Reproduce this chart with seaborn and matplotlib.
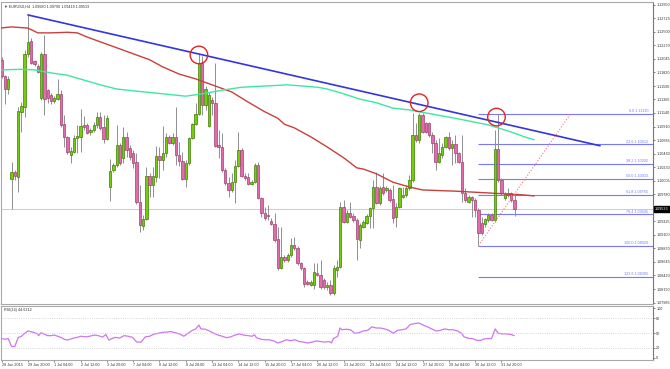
import numpy as np
import pandas as pd
import matplotlib
matplotlib.use("Agg")
import matplotlib.pyplot as plt
import matplotlib.transforms as mtransforms
import seaborn as sns

# ── Data (EURUSD H4) ─────────────────────────────────────────────────────────
opens = [
    1.1203, 1.1176, 1.1154, 1.1003, 1.1015, 1.1007, 1.1116, 1.1124, 1.1213, 1.1234,
    1.1201, 1.1193, 1.1139, 1.1213, 1.1152, 1.1144, 1.1134, 1.1137, 1.1146, 1.1095,
    1.1074, 1.1044, 1.1049, 1.1072, 1.1074, 1.1094, 1.1094, 1.1082, 1.1085, 1.1094,
    1.1107, 1.1090, 1.1070, 1.0990, 1.1018, 1.1027, 1.1060, 1.1039, 1.1074, 1.1055,
    1.1047, 1.1032, 1.0965, 1.0925, 1.0936, 1.1008, 1.0993, 1.1007, 1.1042, 1.1035,
    1.1047, 1.1074, 1.1064, 1.1074, 1.1044, 1.1034, 1.1003, 1.1030, 1.1072, 1.1095,
    1.1112, 1.1198, 1.1127, 1.1092, 1.1136, 1.1131, 1.1060, 1.1057, 1.1018, 1.0997,
    1.0985, 1.0998, 1.1025, 1.1052, 1.1008, 1.1007, 1.0995, 1.0998, 1.1027, 1.0971,
    1.0946, 1.0943, 1.0933, 1.0928, 1.0903, 1.0854, 1.0873, 1.0868, 1.0876, 1.0893,
    1.0888, 1.0863, 1.0854, 1.0831, 1.0826, 1.0826, 1.0846, 1.0843, 1.0834, 1.0823,
    1.0826, 1.0813, 1.0851, 1.0856, 1.0956, 1.0931, 1.0946, 1.0941, 1.0935, 1.0901,
    1.0923, 1.0930, 1.0941, 1.0955, 1.0990, 1.0963, 1.0990, 1.0985, 1.0985, 1.0970,
    1.0940, 1.0956, 1.0973, 1.0977, 1.0988, 1.1002, 1.1077, 1.1069, 1.1111, 1.1097,
    1.1097, 1.1077, 1.1064, 1.1032, 1.1044, 1.1057, 1.1074, 1.1055, 1.1062, 1.1047,
    1.1032, 1.0980, 1.0965, 1.0973, 1.0968, 1.0951, 1.0930, 1.0928, 1.0935, 1.0943,
    1.0935, 1.1054, 1.1002, 1.0972, 1.0980, 1.0980, 1.0968,
]
highs = [
    1.1208, 1.1177, 1.1176, 1.1032, 1.1018, 1.1124, 1.1132, 1.1219, 1.1278, 1.1239,
    1.1203, 1.1196, 1.1216, 1.1244, 1.1154, 1.1147, 1.1142, 1.1171, 1.1152, 1.1111,
    1.1075, 1.1057, 1.1077, 1.1094, 1.1120, 1.1109, 1.1097, 1.1089, 1.1099, 1.1116,
    1.1116, 1.1111, 1.1111, 1.1037, 1.1030, 1.1094, 1.1064, 1.1090, 1.1082, 1.1060,
    1.1052, 1.1047, 1.0993, 1.0943, 1.1023, 1.1013, 1.1023, 1.1059, 1.1057, 1.1092,
    1.1080, 1.1077, 1.1080, 1.1124, 1.1065, 1.1049, 1.1035, 1.1074, 1.1097, 1.1131,
    1.1214, 1.1209, 1.1159, 1.1149, 1.1141, 1.1198, 1.1085, 1.1080, 1.1022, 1.1007,
    1.1013, 1.1035, 1.1082, 1.1055, 1.1013, 1.1013, 1.1002, 1.1030, 1.1032, 1.0973,
    1.0956, 1.0960, 1.0938, 1.0946, 1.0923, 1.0923, 1.0876, 1.0879, 1.0905, 1.0906,
    1.0891, 1.0864, 1.0856, 1.0834, 1.0834, 1.0863, 1.0863, 1.0868, 1.0838, 1.0831,
    1.0834, 1.0859, 1.0868, 1.0965, 1.0968, 1.0951, 1.0965, 1.0946, 1.0938, 1.0930,
    1.0935, 1.0945, 1.0956, 1.1002, 1.1015, 1.0992, 1.1013, 1.0992, 1.0988, 1.0993,
    1.0963, 1.0990, 1.0990, 1.0993, 1.1010, 1.1114, 1.1097, 1.1114, 1.1114, 1.1099,
    1.1099, 1.1082, 1.1069, 1.1072, 1.1064, 1.1075, 1.1082, 1.1069, 1.1077, 1.1049,
    1.1077, 1.0988, 1.0977, 1.0975, 1.0972, 1.0955, 1.0940, 1.0938, 1.0946, 1.0946,
    1.1085, 1.1113, 1.1005, 1.0982, 1.0988, 1.0982, 1.0979,
]
lows = [
    1.1172, 1.1129, 1.1146, 1.0953, 1.1002, 1.0982, 1.1082, 1.1107, 1.1208, 1.1196,
    1.1193, 1.1181, 1.1136, 1.1111, 1.1131, 1.1129, 1.1131, 1.1136, 1.1090, 1.1057,
    1.1045, 1.1030, 1.1047, 1.1047, 1.1049, 1.1085, 1.1079, 1.1077, 1.1082, 1.1089,
    1.1085, 1.1064, 1.1069, 1.0967, 1.1015, 1.1023, 1.1027, 1.1030, 1.1040, 1.1035,
    1.1022, 1.0961, 1.0915, 1.0918, 1.0935, 1.0973, 1.0973, 1.0998, 1.1005, 1.1018,
    1.1040, 1.1062, 1.1060, 1.1027, 1.1025, 1.1002, 1.0990, 1.1027, 1.1070, 1.1094,
    1.1111, 1.1111, 1.1119, 1.1090, 1.1111, 1.1057, 1.1039, 1.1015, 1.0993, 1.0973,
    1.0982, 1.0963, 1.1023, 1.1007, 1.1002, 1.0993, 1.0993, 1.0997, 1.0970, 1.0940,
    1.0935, 1.0935, 1.0926, 1.0898, 1.0851, 1.0853, 1.0864, 1.0864, 1.0873, 1.0885,
    1.0859, 1.0851, 1.0823, 1.0826, 1.0824, 1.0819, 1.0841, 1.0819, 1.0819, 1.0818,
    1.0809, 1.0809, 1.0839, 1.0854, 1.0930, 1.0930, 1.0938, 1.0931, 1.0868, 1.0888,
    1.0921, 1.0928, 1.0921, 1.0921, 1.0961, 1.0960, 1.0977, 1.0982, 1.0965, 1.0930,
    1.0923, 1.0955, 1.0972, 1.0973, 1.0985, 1.0998, 1.1065, 1.1064, 1.1080, 1.1080,
    1.1074, 1.1047, 1.1018, 1.1030, 1.1039, 1.1055, 1.1052, 1.1027, 1.1030, 1.1030,
    1.0965, 1.0965, 1.0963, 1.0940, 1.0940, 1.0892, 1.0910, 1.0923, 1.0931, 1.0933,
    1.0931, 1.0998, 1.0977, 1.0968, 1.0973, 1.0965, 1.0942,
]
closes = [
    1.1176, 1.1154, 1.1171, 1.1015, 1.1008, 1.1117, 1.1126, 1.1213, 1.1233, 1.1198,
    1.1196, 1.1183, 1.1213, 1.1137, 1.1139, 1.1134, 1.1139, 1.1146, 1.1094, 1.1074,
    1.1049, 1.1050, 1.1072, 1.1075, 1.1092, 1.1090, 1.1080, 1.1085, 1.1094, 1.1107,
    1.1089, 1.1070, 1.1106, 1.1017, 1.1027, 1.1060, 1.1030, 1.1074, 1.1052, 1.1040,
    1.1030, 1.0965, 1.0926, 1.0936, 1.1008, 1.0993, 1.1008, 1.1042, 1.1035, 1.1047,
    1.1074, 1.1064, 1.1074, 1.1044, 1.1034, 1.1003, 1.1030, 1.1072, 1.1095, 1.1112,
    1.1198, 1.1127, 1.1154, 1.1144, 1.1131, 1.1059, 1.1057, 1.1018, 1.0997, 1.0985,
    1.0998, 1.1025, 1.1052, 1.1008, 1.1005, 1.0995, 1.0998, 1.1027, 1.0971, 1.0946,
    1.0938, 1.0941, 1.0928, 1.0901, 1.0854, 1.0873, 1.0868, 1.0876, 1.0893, 1.0888,
    1.0863, 1.0854, 1.0828, 1.0828, 1.0831, 1.0848, 1.0843, 1.0823, 1.0823, 1.0826,
    1.0813, 1.0854, 1.0856, 1.0956, 1.0931, 1.0946, 1.0940, 1.0935, 1.0903, 1.0926,
    1.0931, 1.0941, 1.0955, 1.0990, 1.0963, 1.0988, 1.0980, 1.0988, 1.0968, 1.0938,
    1.0956, 1.0988, 1.0977, 1.0988, 1.1002, 1.1077, 1.1069, 1.1111, 1.1082, 1.1082,
    1.1077, 1.1064, 1.1032, 1.1047, 1.1057, 1.1074, 1.1055, 1.1062, 1.1047, 1.1032,
    1.0980, 1.0968, 1.0973, 1.0968, 1.0951, 1.0913, 1.0913, 1.0936, 1.0943, 1.0935,
    1.1054, 1.1002, 1.0980, 1.0978, 1.0977, 1.0968, 1.0953,
]

# moving averages, sampled at bar positions
ma_red_x = [-0.5, 3, 8, 11, 15, 20, 23, 26, 30, 35, 40, 45, 49, 54, 59, 64, 70, 75, 80,
            84, 86, 89, 94, 99, 104, 108, 110, 114, 119, 124, 128, 138, 148, 158, 162]
ma_red = [1.1256, 1.1258, 1.1256, 1.1248, 1.1248, 1.1249, 1.1248, 1.1241, 1.1233, 1.1223,
          1.1213, 1.1203, 1.1191, 1.1179, 1.1171, 1.1161, 1.1149, 1.1132, 1.1116, 1.1105,
          1.1095, 1.1089, 1.1074, 1.1057, 1.1039, 1.1022, 1.1020, 1.1012, 1.0998, 1.0990,
          1.0985, 1.0983, 1.0980, 1.0977, 1.0975]
ma_green_x = [-0.5, 6, 10, 15, 20, 25, 30, 35, 40, 49, 56, 61, 67, 73, 80, 87, 96, 99,
              104, 109, 114, 119, 124, 131, 138, 148, 155, 159, 162]
ma_green = [1.1186, 1.1187, 1.1186, 1.1181, 1.1177, 1.1169, 1.1161, 1.1154, 1.1151, 1.1146,
            1.1142, 1.1146, 1.1152, 1.1157, 1.1159, 1.1161, 1.1157, 1.1154, 1.1146, 1.1137,
            1.1131, 1.1122, 1.1119, 1.1112, 1.1105, 1.1094, 1.1082, 1.1074, 1.1069]

trend_x = [8, 182]
trend_y = [1.1278, 1.1059]
proj_x = [145, 173]
proj_y = [1.0892, 1.1112]
circle_x = [60, 127, 150.5]
circle_y = [1.1211, 1.1131, 1.1107]

fib_ratios = ["0.0", "23.6", "38.2", "50.0", "61.8", "76.4", "100.0", "123.6"]
fib_prices = [1.11130, 1.10612, 1.10292, 1.10033, 1.09765, 1.09445, 1.08920, 1.08395]
fib_start = 145

price_ticks = [1.12950, 1.12725, 1.12500, 1.12270, 1.12045, 1.11820, 1.11590, 1.11365,
               1.11140, 1.10910, 1.10685, 1.10460, 1.10230, 1.10005, 1.09780, 1.09325,
               1.09100, 1.08870, 1.08645, 1.08420, 1.08190, 1.07965]
last_price = 1.09533

rsi_x = [0, 1, 2, 3, 4, 5, 6, 7, 8, 9, 10, 11, 11.2, 12, 13, 14, 15, 16, 18, 19, 20, 22,
         23, 24, 25.5, 26.8, 28.1, 29.4, 30.7, 31.7, 32.6, 33.5, 34.6, 35.9, 37.2, 38.5,
         39.8, 41.1, 42.4, 43.7, 45.0, 46.3, 47.6, 48.9, 50.2, 51.5, 52.8, 54.1, 55.4, 56.7,
         58.0, 59.0, 60.0, 60.6, 61.9, 63.2, 64.5, 65.8, 67.1, 68.4, 69.7, 71.0, 72.3, 73.6,
         74.9, 76.2, 76.9, 77.5, 78.8, 80.1, 81.4, 82.7, 84.0, 85.3, 86.6, 87.9, 89.2, 90.5,
         91.8, 93.1, 94.4, 95.7, 97.0, 98.3, 99.6, 100.3, 100.9, 102.2, 102.9, 103.5, 104.8,
         106.1, 107.4, 108.7, 110.0, 111.3, 112.6, 113.9, 115.2, 116.5, 117.8, 119.1, 120.4,
         121.7, 123.0, 124.3, 125.6, 126.9, 128.2, 129.5, 130.8, 132.1, 133.4, 134.7, 136.0,
         137.3, 138.6, 139.9, 140.6, 141.9, 143.2, 144.5, 145.8, 146.4, 147.7, 149.0, 150.1,
         151.0, 152.3, 153.6, 154.9, 155.9]
rsi_vals = [38.8, 37.6, 38.8, 23.0, 23.0, 40.6, 43.5, 49.4, 54.1, 52.4, 50.6, 48.2, 44.7,
            50.6, 47.6, 44.7, 44.7, 45.9, 41.2, 37.6, 35.9, 40.0, 41.2, 43.5, 42.4, 43.5,
            45.9, 44.7, 41.8, 47.1, 35.9, 38.8, 41.2, 40.0, 44.7, 43.5, 41.2, 31.8, 31.8,
            42.4, 43.5, 47.6, 49.4, 51.2, 51.8, 52.9, 50.6, 48.2, 43.5, 49.4, 55.3, 58.2,
            65.9, 58.2, 57.6, 54.1, 49.4, 45.9, 43.5, 40.6, 42.4, 45.9, 48.2, 45.9, 44.7,
            43.5, 46.5, 40.6, 37.6, 36.5, 36.5, 34.1, 30.0, 32.9, 36.5, 34.7, 36.5, 32.9,
            31.8, 30.0, 31.8, 34.1, 32.9, 31.8, 32.9, 30.0, 38.8, 43.5, 60.0, 56.5, 57.6,
            56.5, 49.4, 50.6, 54.1, 55.3, 62.3, 60.0, 60.0, 58.2, 55.3, 49.4, 55.3, 56.5,
            58.2, 67.1, 68.8, 70.0, 65.9, 62.3, 58.2, 54.1, 55.3, 58.2, 56.5, 56.5, 54.1,
            49.4, 42.4, 39.4, 38.8, 35.3, 35.3, 37.6, 38.8, 38.8, 58.2, 49.4, 48.2, 48.2,
            47.1, 44.7]
rsi_ticks = [0, 20, 50, 80, 100]
rsi_levels = [20, 50, 80]

date_labels = ["28 Jun 2015", "29 Jun 20:00", "1 Jul 04:00", "2 Jul 12:00", "3 Jul 20:00",
               "7 Jul 04:00", "8 Jul 12:00", "9 Jul 20:00", "13 Jul 04:00", "14 Jul 12:00",
               "15 Jul 20:00", "17 Jul 04:00", "20 Jul 12:00", "21 Jul 20:00", "23 Jul 04:00",
               "24 Jul 12:00", "27 Jul 20:00", "29 Jul 04:00", "30 Jul 12:00", "31 Jul 20:00"]
DATE_STEP = 8

# ── Style ────────────────────────────────────────────────────────────────────
BULL, BULL_EDGE = "#74cc10", "#3f7d00"
BEAR, BEAR_EDGE = "#e46aae", "#a0406e"
WICK = "#8f8f8f"
FIB = "#7878ff"
XMIN, XMAX = -0.2, 198.1
SMALL = 2.7

sns.set_theme(style="white")
plt.rcParams["font.family"] = ["Liberation Sans", "DejaVu Sans"]

fig = plt.figure(figsize=(6.70, 3.69), dpi=100)
ax = fig.add_axes([0.0015, 0.1762, 0.9731, 0.8184])
ax2 = fig.add_axes([0.0015, 0.0244, 0.9731, 0.1463])

# ── Candles ──────────────────────────────────────────────────────────────────
df = pd.DataFrame({"open": opens, "high": highs, "low": lows, "close": closes})
df["bar"] = np.arange(len(df))
up = df["close"] >= df["open"]
bottom = df[["open", "close"]].min(axis=1)
height = (df["close"] - df["open"]).abs().clip(lower=0.00006)

ax.vlines(df["bar"], df["low"], df["high"], color=WICK, lw=0.7, zorder=2)
ax.bar(df["bar"][up], height[up], bottom=bottom[up], width=0.72,
       color=BULL, edgecolor=BULL_EDGE, lw=0.5, zorder=3)
ax.bar(df["bar"][~up], height[~up], bottom=bottom[~up], width=0.72,
       color=BEAR, edgecolor=BEAR_EDGE, lw=0.5, zorder=3)

# ── Overlays ─────────────────────────────────────────────────────────────────
sns.lineplot(x=ma_red_x, y=ma_red, ax=ax, color="#c8403c", lw=1.0, estimator=None, zorder=4)
sns.lineplot(x=ma_green_x, y=ma_green, ax=ax, color="#3ee6a4", lw=1.0, estimator=None, zorder=4)
sns.lineplot(x=trend_x, y=trend_y, ax=ax, color="#3434e0", lw=1.2, estimator=None, zorder=5)
sns.lineplot(x=proj_x, y=proj_y, ax=ax, color="#ff7070", lw=0.8, linestyle=":",
             estimator=None, zorder=5)

ax.axhline(last_price, color="#c4c4c4", lw=0.6, zorder=1)
ax.hlines(fib_prices, fib_start, XMAX, color=FIB, lw=0.8, zorder=1)
trans = mtransforms.blended_transform_factory(ax.transAxes, ax.transData)
for r, p in zip(fib_ratios, fib_prices):
    ax.text(0.993, p + 0.00010, f"{r} {p:.5f}", transform=trans, ha="right", va="bottom",
            fontsize=SMALL, color=FIB)

ax.scatter(circle_x, circle_y, s=160, facecolors="none", edgecolors="#e52222", lw=1.0, zorder=6)

ax.text(0.004, 0.993, "\u25bc EURUSD,H4  1.09680 1.09790 1.09419 1.09533", transform=ax.transAxes,
        ha="left", va="top", fontsize=SMALL, color="#333333")
ax.text(1.003, last_price, "1.09533", transform=trans, ha="left", va="center", fontsize=SMALL,
        color="white", bbox=dict(boxstyle="square,pad=0.25", fc="black", ec="black"),
        clip_on=False, zorder=10)

ax.set_xlim(XMIN, XMAX)
ax.set_ylim(1.07941, 1.12997)
ax.yaxis.tick_right()
ax.set_yticks(price_ticks)
ax.set_yticklabels([f"{t:.5f}" for t in price_ticks])
ax.set_xticks([])
ax.tick_params(axis="y", labelsize=SMALL, length=1.5, width=0.5, pad=0.8,
               colors="#555555", labelcolor="#333333", right=True)

# ── RSI panel ────────────────────────────────────────────────────────────────
sns.lineplot(x=rsi_x, y=rsi_vals, ax=ax2, color="#cc77ee", lw=0.9, estimator=None)
for lvl in rsi_levels:
    ax2.axhline(lvl, color="#c8c8c8", lw=0.6, linestyle=":")
ax2.text(0.004, 0.97, "RSI(14) 44.6312", transform=ax2.transAxes, ha="left", va="top",
         fontsize=SMALL, color="#333333")
ax2.set_xlim(XMIN, XMAX)
ax2.set_ylim(-4, 104)
ax2.yaxis.tick_right()
ax2.set_yticks(rsi_ticks)
ax2.set_yticklabels([str(t) for t in rsi_ticks])
ax2.set_xticks(np.arange(len(date_labels)) * DATE_STEP)
ax2.set_xticklabels(date_labels, ha="left")
ax2.tick_params(axis="both", labelsize=SMALL, length=1.5, width=0.5, pad=0.8,
                colors="#555555", labelcolor="#333333")
ax2.tick_params(axis="y", right=True)
ax2.tick_params(axis="x", bottom=True)

for a in (ax, ax2):
    a.set_xlabel("")
    a.set_ylabel("")
    for side, sp in a.spines.items():
        sp.set_linewidth(0.8)
        sp.set_color("#777777" if side == "right" else "#a8a8a8")

fig.savefig("out.png", dpi=100)
